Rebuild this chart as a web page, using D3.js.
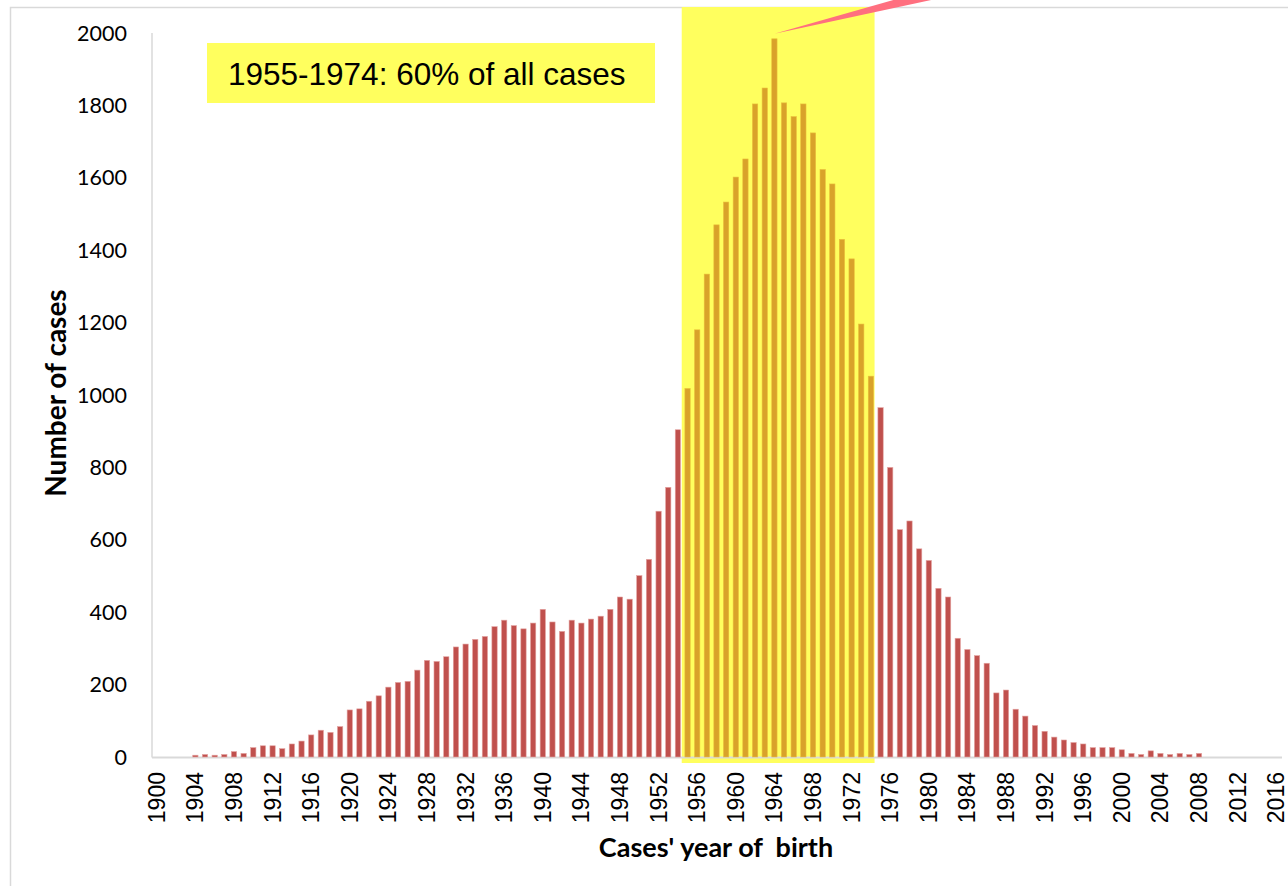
<!DOCTYPE html>
<html><head><meta charset="utf-8">
<script src="https://cdn.jsdelivr.net/npm/d3@7"></script>
<style>body{margin:0;background:#fff;} svg{display:block;}</style>
</head><body>
<svg id="c" width="1288" height="886"></svg>
<script>
const years = d3.range(1900, 2017);
const cases = [
 0,0,0,0,5,7,5,7,15,10,          // 1900-1909
 26,31,31,23,36,44,61,74,68,84,  // 1910-1919
 130,133,154,169,193,206,209,240,267,264, // 1920-1929
 277,304,312,325,333,360,378,363,354,370, // 1930-1939
 408,373,347,378,370,381,389,408,442,436, // 1940-1949
 501,546,679,745,904,1018,1180,1334,1470,1533, // 1950-1959
 1602,1652,1804,1848,1984,1807,1769,1804,1724,1623, // 1960-1969
 1583,1430,1376,1196,1052,965,800,628,652,575, // 1970-1979
 543,466,442,328,297,280,259,177,185,132, // 1980-1989
 113,87,71,55,47,40,36,26,26,26, // 1990-1999
 20,10,7,17,10,7,10,7,10,0, // 2000-2009
 0,0,0,0,0,0,0 // 2010-2016
];
const yTicks = d3.range(0, 2001, 200);
const xTickYears = years.filter(y => (y - 1900) % 4 === 0);
const highlightStart = 1955, highlightEnd = 1974;
const annotationText = "1955-1974: 60% of all cases";
const peakYear = 1964;

const svg = d3.select("#c");
const x = d3.scaleBand().domain(years).range([152, 1281]).paddingInner(0.45).paddingOuter(0.22);
const y = d3.scaleLinear().domain([0, 2000]).range([757, 33]);

// outer frame
svg.append("rect").attr("x", 10.5).attr("y", 7.5).attr("width", 1290).attr("height", 900)
  .attr("fill", "none").attr("stroke", "#d9d9d9").attr("stroke-width", 1.5);

// highlight band
const hx0 = x(highlightStart) - x.step() * x.paddingInner() / 2 - 1;
const hx1 = x(highlightEnd) + x.bandwidth() + 1;
svg.append("rect").attr("x", hx0).attr("y", 7).attr("width", hx1 - hx0).attr("height", 763 - 7)
  .attr("fill", "#ffff5e");

// annotation box
svg.append("rect").attr("x", 207).attr("y", 43).attr("width", 448).attr("height", 60).attr("fill", "#ffff5e");
svg.append("text").attr("x", 228).attr("y", 85).text(annotationText)
  .attr("font-family", "Liberation Sans, Arial, sans-serif").attr("font-size", 31.5).attr("fill", "#000");

// axes lines
svg.append("line").attr("x1", 152).attr("x2", 152).attr("y1", 33).attr("y2", 757.5).attr("stroke", "#d9d9d9").attr("stroke-width", 1.5);
svg.append("line").attr("x1", 152).attr("x2", 1282).attr("y1", 757.5).attr("y2", 757.5).attr("stroke", "#d9d9d9").attr("stroke-width", 2);

// bars
const data = years.map((yr, i) => ({year: yr, value: cases[i]}));
const inHL = d => d.year >= highlightStart && d.year <= highlightEnd;
svg.append("g").selectAll("rect").data(data.filter(d => d.value > 0)).join("rect")
  .attr("x", d => x(d.year))
  .attr("width", x.bandwidth())
  .attr("y", d => y(d.value))
  .attr("height", d => y(0) - y(d.value))
  .attr("fill", d => inHL(d) ? "#d9a22a" : "#c0504d")
  .attr("stroke", d => inHL(d) ? "#e9bf3a" : "#e4a4a2")
  .attr("stroke-width", 0.6);

// pointer wedge from peak bar
const px = x(peakYear) + x.bandwidth() / 2, py = y(cases[years.indexOf(peakYear)]) - 5;
svg.append("path").attr("d", `M${px},${py} L${px + 166},${-2} L${px + 126},${-2} Z`).attr("fill", "#ff6f7f");

// y tick labels
svg.append("g").selectAll("text").data(yTicks).join("text")
  .attr("x", 127).attr("y", d => y(d)).attr("dy", "0.35em").attr("text-anchor", "end")
  .attr("font-family", "Lato, sans-serif").attr("font-size", 21.5).attr("fill", "#000")
  .text(d => d);

// x tick labels (rotated)
svg.append("g").selectAll("text").data(xTickYears).join("text")
  .attr("transform", d => `translate(${x(d) + x.bandwidth() / 2 + 8},772) rotate(-90)`)
  .attr("text-anchor", "end")
  .attr("font-family", "Liberation Sans, Arial, sans-serif").attr("font-size", 23).attr("fill", "#000")
  .text(d => d);

// axis titles
svg.append("text").attr("transform", "translate(66,393) rotate(-90)").attr("text-anchor", "middle")
  .attr("font-family", "Lato, sans-serif").attr("font-weight", "bold").attr("font-size", 28).attr("fill", "#000")
  .text("Number of cases");
svg.append("text").attr("x", 716).attr("y", 857).attr("text-anchor", "middle")
  .attr("font-family", "Lato, sans-serif").attr("font-weight", "bold").attr("font-size", 27).attr("fill", "#000")
  .attr("xml:space", "preserve").style("white-space", "pre")
  .text("Cases' year of  birth");
</script>
</body></html>
